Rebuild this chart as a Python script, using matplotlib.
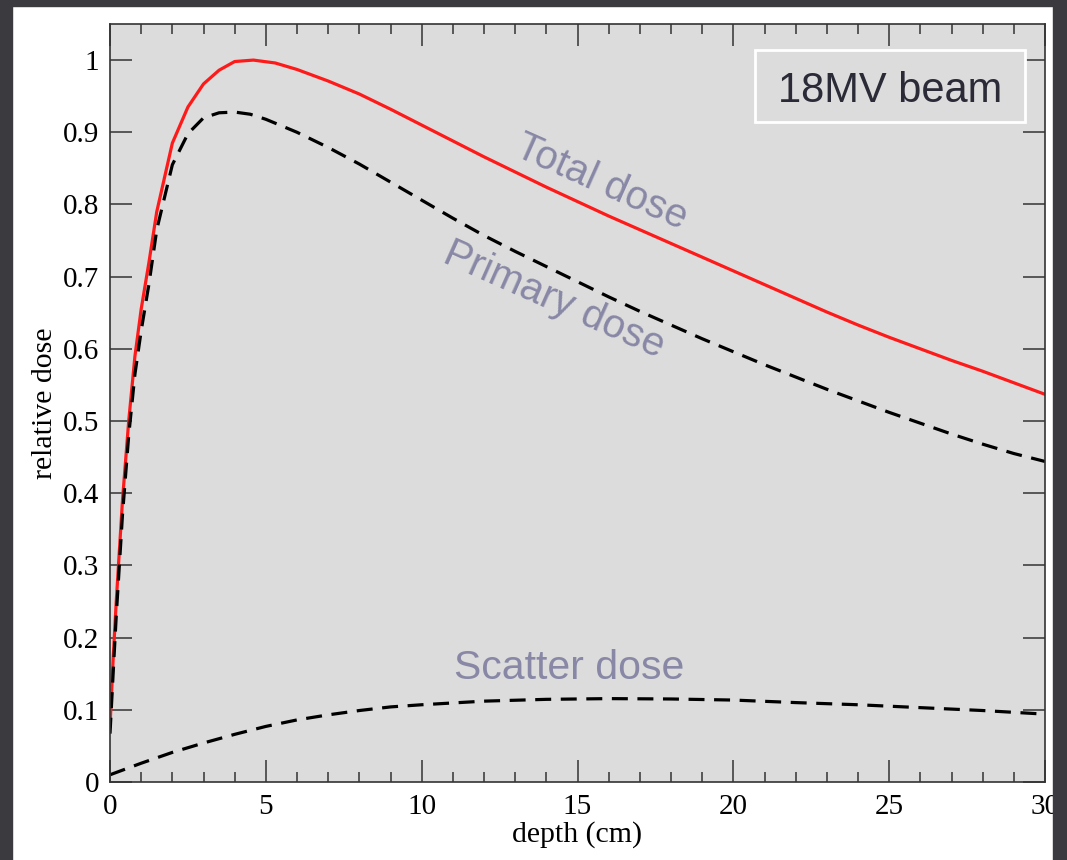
import matplotlib.pyplot as plt
from matplotlib.patches import Rectangle
from matplotlib.ticker import MultipleLocator, FixedLocator

# depth dose data
total_depth = [0, 0.1, 0.2, 0.3, 0.4, 0.6, 0.8, 1.0, 1.25, 1.5, 2.0, 2.5, 3.0, 3.5,
               4.0, 4.6, 5.3, 6, 7, 8, 9, 10, 11, 12, 13, 14, 15, 16, 17, 18, 19,
               20, 21, 22, 23, 24, 25, 26, 27, 28, 29, 30]
total_dose = [0.077, 0.17, 0.25, 0.32, 0.39, 0.50, 0.59, 0.655, 0.72, 0.79, 0.885,
              0.935, 0.967, 0.986, 0.998, 1.0, 0.996, 0.987, 0.971, 0.953, 0.932,
              0.910, 0.888, 0.866, 0.845, 0.824, 0.804, 0.784, 0.765, 0.746, 0.727,
              0.708, 0.689, 0.670, 0.651, 0.633, 0.616, 0.600, 0.584, 0.569, 0.553,
              0.537]

primary_depth = [0, 0.1, 0.2, 0.3, 0.4, 0.6, 0.8, 1.0, 1.25, 1.5, 2.0, 2.5, 3.0, 3.5,
                 4.0, 4.5, 5, 6, 7, 8, 9, 10, 11, 12, 13, 14, 15, 16, 17, 18, 19,
                 20, 21, 22, 23, 24, 25, 26, 27, 28, 29, 30]
primary_dose = [0.067, 0.15, 0.23, 0.30, 0.37, 0.48, 0.565, 0.625, 0.69, 0.765,
                0.855, 0.898, 0.92, 0.927, 0.928, 0.925, 0.918, 0.900, 0.879, 0.856,
                0.831, 0.806, 0.781, 0.757, 0.735, 0.714, 0.693, 0.672, 0.652, 0.633,
                0.614, 0.596, 0.578, 0.561, 0.544, 0.528, 0.512, 0.497, 0.482, 0.468,
                0.455, 0.444]

scatter_depth = [0, 1, 2, 3, 4, 5, 6, 7, 8, 9, 10, 12, 14, 16, 18, 20, 22, 24, 26, 28, 30]
scatter_dose = [0.010, 0.026, 0.041, 0.054, 0.066, 0.077, 0.086, 0.093, 0.099, 0.104,
                0.107, 0.112, 0.1145, 0.1155, 0.115, 0.1135, 0.110, 0.107, 0.103,
                0.099, 0.094]

y_ticks = [0, 0.1, 0.2, 0.3, 0.4, 0.5, 0.6, 0.7, 0.8, 0.9, 1.0]
y_tick_labels = ['0', '0.1', '0.2', '0.3', '0.4', '0.5', '0.6', '0.7', '0.8', '0.9', '1']
x_ticks = [0, 5, 10, 15, 20, 25, 30]
x_tick_labels = ['0', '5', '10', '15', '20', '25', '30']

label_color = '#8888a6'
dark = '#3b3b3f'

fig = plt.figure(figsize=(10.67, 8.6), dpi=100, facecolor='white')
ax = fig.add_axes([0.1031, 0.0907, 0.8763, 0.8814])
ax.set_facecolor('#dcdcdc')

ax.plot(total_depth, total_dose, color='#ff1a1a', lw=2.3)
ax.plot(primary_depth, primary_dose, color='black', lw=2.3, linestyle=(0, (5, 3)))
ax.plot(scatter_depth, scatter_dose, color='black', lw=2.3, linestyle=(0, (5, 3)))

ax.set_xlim(0, 30)
ax.set_ylim(0, 1.05)

ax.xaxis.set_major_locator(FixedLocator(x_ticks))
ax.xaxis.set_minor_locator(MultipleLocator(1))
ax.set_xticks(x_ticks)
ax.set_xticklabels(x_tick_labels, family='Liberation Serif', fontsize=21)
ax.set_yticks(y_ticks)
ax.set_yticklabels(y_tick_labels, family='Liberation Serif', fontsize=21)

ax.tick_params(which='both', direction='in', top=True, right=True, color='#333333', width=1.1)
ax.tick_params(which='major', length=15.5)
ax.tick_params(which='minor', length=7.5)
ax.tick_params(axis='x', which='major', pad=8.5)
ax.tick_params(axis='y', which='major', pad=8)
for sp in ax.spines.values():
    sp.set_color('#333333')
    sp.set_linewidth(1.2)

ax.set_xlabel('depth (cm)', family='Liberation Serif', fontsize=21.5)
ax.set_ylabel('relative dose', family='Liberation Serif', fontsize=21.5)
ax.xaxis.set_label_coords(0.5, -0.052)
ax.yaxis.set_label_coords(-0.056, 0.5)

# curve labels
ax.text(15.78, 0.8305, 'Total dose', color=label_color, fontsize=29, family='Liberation Sans',
        rotation=-24, ha='center', va='center')
ax.text(14.24, 0.668, 'Primary dose', color=label_color, fontsize=29, family='Liberation Sans',
        rotation=-24, ha='center', va='center')
ax.text(14.73, 0.158, 'Scatter dose', color=label_color, fontsize=29.5, family='Liberation Sans',
        ha='center', va='center')

# beam box
ax.add_patch(Rectangle((0.6898, 0.8707), 0.2888, 0.095, transform=ax.transAxes,
                       facecolor='#dcdcdc', edgecolor='white', lw=2, zorder=3))
ax.text(0.834, 0.897, '18MV beam', transform=ax.transAxes, color='#2b2b38', fontsize=30,
        family='Liberation Sans', ha='center', va='baseline', zorder=4)

# dark frame around the slide
fig.add_artist(Rectangle((0, 0), 0.01125, 1, transform=fig.transFigure, color=dark, zorder=10))
fig.add_artist(Rectangle((0.9869, 0), 0.0131, 1, transform=fig.transFigure, color=dark, zorder=10))
fig.add_artist(Rectangle((0, 0.993), 1, 0.007, transform=fig.transFigure, color=dark, zorder=10))

fig.savefig('out.png', dpi=100)
